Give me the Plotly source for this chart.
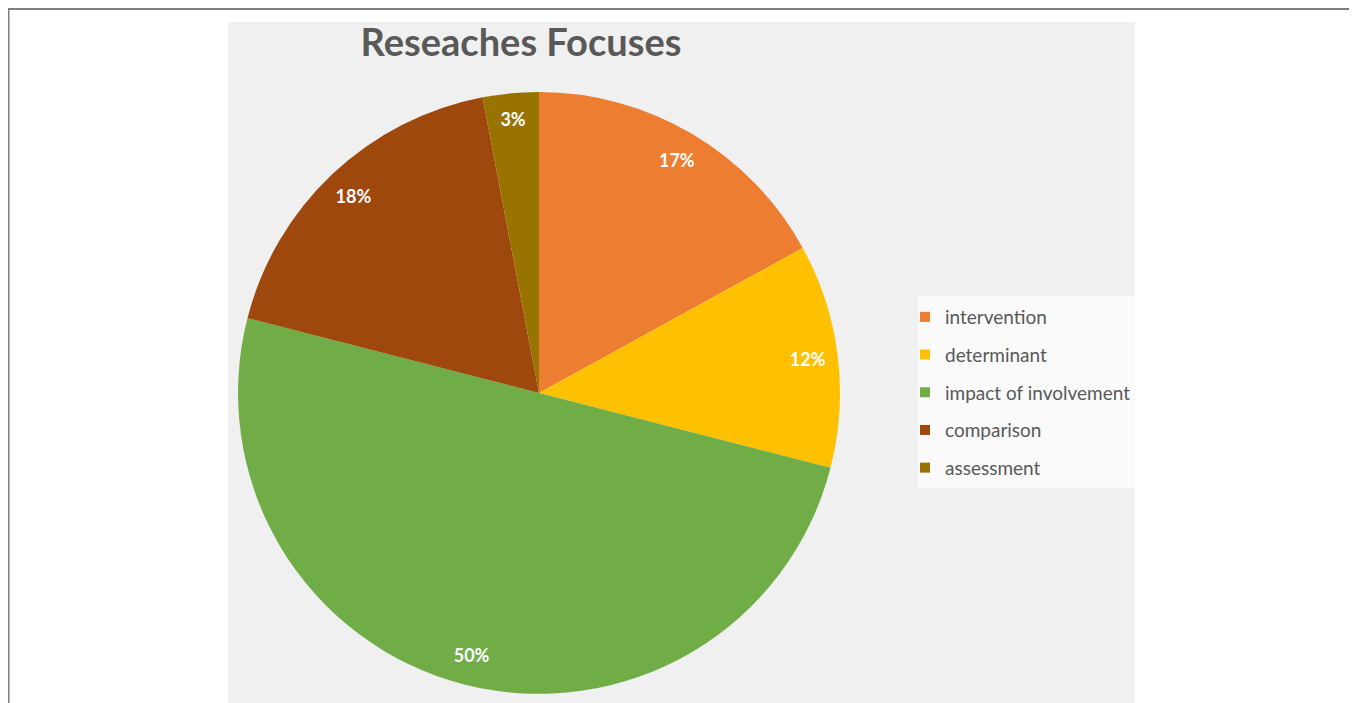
import plotly.graph_objects as go

categories = ["intervention", "determinant", "impact of involvement", "comparison", "assessment"]
values = [17, 12, 50, 18, 3]
colors = ["#ED7D31", "#FFC000", "#70AD47", "#9E480E", "#997300"]
title_text = "Reseaches Focuses"

# page body has an 8px margin; figure is drawn from (8, 8)
OFF = 8
W, H = 1357 - OFF, 703 - OFF

def px(x):
    return (x - OFF) / W

def py(y):
    return 1 - (y - OFF) / H

dom = dict(x=[px(238), px(840)], y=[py(694), py(92)])

fig = go.Figure()

# the pie itself
fig.add_trace(go.Pie(
    labels=categories,
    values=values,
    sort=False,
    direction="clockwise",
    rotation=0,
    marker=dict(colors=colors, line=dict(width=0)),
    textinfo="none",
    showlegend=False,
    domain=dom,
    hoverinfo="label+percent",
))

# transparent ring on top, only to place the percentage labels near the rim
fig.add_trace(go.Pie(
    labels=categories,
    values=values,
    sort=False,
    direction="clockwise",
    rotation=0,
    hole=0.8,
    marker=dict(colors=["rgba(0,0,0,0)"] * len(values), line=dict(width=0)),
    textinfo="percent",
    textposition="inside",
    insidetextorientation="horizontal",
    textfont=dict(family="Lato", size=18, color="white", weight="bold"),
    showlegend=False,
    domain=dom,
    hoverinfo="skip",
))

for i, (cat, col) in enumerate(zip(categories, colors)):
    fig.add_trace(go.Scatter(
        x=[None], y=[None], mode="markers",
        marker=dict(symbol="square", size=10, color=col),
        name=cat, legendgroup=f"g{i}", showlegend=True,
    ))

fig.update_layout(
    width=W, height=H,
    margin=dict(l=0, r=0, t=0, b=0),
    paper_bgcolor="white",
    plot_bgcolor="rgba(0,0,0,0)",
    xaxis=dict(visible=False),
    yaxis=dict(visible=False),
    title=dict(
        text="<b>" + title_text + "</b>",
        x=px(521), xanchor="center",
        y=py(43), yanchor="middle",
        font=dict(family="Lato", size=38, color="#595959"),
    ),
    legend=dict(
        x=px(905), xanchor="left",
        y=py(298), yanchor="top",
        bgcolor="rgba(0,0,0,0)",
        font=dict(family="Lato", size=19, color="#595959"),
        tracegroupgap=10,
        itemwidth=30,
    ),
    shapes=[
        dict(type="rect", xref="paper", yref="paper",
             x0=px(228), x1=px(1135), y0=py(712), y1=py(22),
             fillcolor="#f0f0f0", line=dict(width=0), layer="below"),
        dict(type="rect", xref="paper", yref="paper",
             x0=px(918), x1=px(1135), y0=py(488), y1=py(296),
             fillcolor="#fafafa", line=dict(width=0), layer="below"),
        dict(type="rect", xref="paper", yref="paper",
             x0=px(8.5), x1=px(1355), y0=py(720), y1=py(9),
             fillcolor="rgba(0,0,0,0)", line=dict(width=2, color="#7f7f7f"), layer="above"),
    ],
)

fig.write_html("out.html")
